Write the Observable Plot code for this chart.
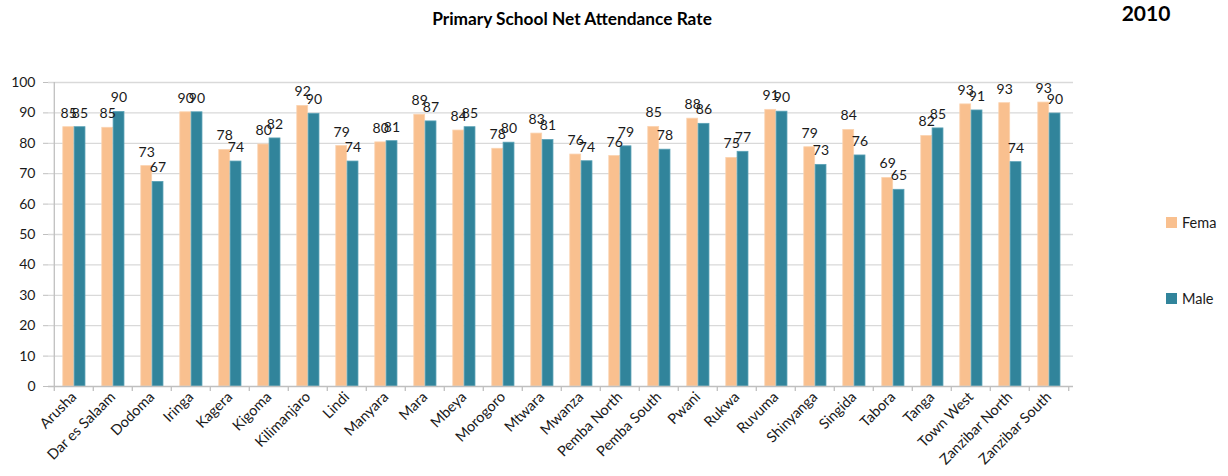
<!DOCTYPE html>
<html>
<head>
<meta charset="utf-8">
<script src="https://cdn.jsdelivr.net/npm/d3@7"></script>
<script src="https://cdn.jsdelivr.net/npm/@observablehq/plot@0.6"></script>
<style>
  html, body { margin: 0; padding: 0; background: #fff; overflow: hidden; }
  #wrap { position: relative; width: 1228px; height: 476px; font-family: Lato, "Open Sans", sans-serif; }
  #title { position: absolute; left: 0; width: 1144px; top: 8px; text-align: center; font-weight: bold; font-size: 17.3px; color: #000; }
  #year { position: absolute; left: 1098px; width: 96px; top: 0px; text-align: center; font-weight: bold; font-size: 21px; color: #000; }
  .leg { position: absolute; left: 1166px; font-size: 14.5px; color: #1a1a1a; white-space: nowrap; display: flex; align-items: center; }
  .sw { width: 10.5px; height: 10.5px; margin-right: 5.5px; display: inline-block; }
  #chart { position: absolute; left: 0; top: 0; }
</style>
</head>
<body>
<div id="wrap">
  <div id="chart"></div>
  <div id="title">Primary School Net Attendance Rate</div>
  <div id="year">2010</div>
  <div id="legend"></div>
</div>
<script>
const regions = ["Arusha","Dar es Salaam","Dodoma","Iringa","Kagera","Kigoma","Kilimanjaro","Lindi","Manyara","Mara","Mbeya","Morogoro","Mtwara","Mwanza","Pemba North","Pemba South","Pwani","Rukwa","Ruvuma","Shinyanga","Singida","Tabora","Tanga","Town West","Zanzibar North","Zanzibar South"];
const female = [85.3,85.1,72.5,90.2,77.8,79.6,92.3,79.1,80.3,89.4,84.2,78.2,83.2,76.3,75.8,85.4,88.1,75.2,91.0,78.7,84.4,68.6,82.4,92.8,93.2,93.4];
const male   = [85.3,90.3,67.3,90.2,74.0,81.6,89.7,74.0,80.7,87.2,85.3,80.2,81.1,74.1,79.0,77.9,86.4,77.2,90.4,72.9,76.0,64.7,84.9,90.8,73.8,89.8];
const seriesNames = ["Female","Male"];
const legendLabels = ["Fema","Male"];
const colors = ["#F9C08F","#31849B"];
const yTicks = [0,10,20,30,40,50,60,70,80,90,100];

const fData = regions.map((r,i)=>({region:r, value:female[i]}));
const mData = regions.map((r,i)=>({region:r, value:male[i]}));

const W = 1228, H = 476, mL = 48, mR = 155;
const bw = (W - mL - mR) / regions.length;
const axisColor = "#bfbfbf";

const chart = Plot.plot({
  width: W, height: H,
  marginLeft: mL, marginRight: mR, marginTop: 82, marginBottom: 90,
  style: {fontFamily: "Lato, 'Open Sans', sans-serif", fontSize: "14px", color: "#1a1a1a", background: "transparent"},
  x: {domain: regions, padding: 0, axis: null, label: null},
  y: {domain: [0,100], axis: null, label: null},
  marks: [
    Plot.gridY(yTicks.slice(1), {stroke: "#d9d9d9", strokeOpacity: 1, strokeWidth: 1.3}),
    Plot.barY(fData, {x: "region", y: "value", fill: colors[0], stroke: "#fbd3b0", strokeWidth: 0.8, insetLeft: 8.8, insetRight: bw - 8.8 - 11.3}),
    Plot.barY(mData, {x: "region", y: "value", fill: colors[1], stroke: "#5ba2b6", strokeWidth: 0.8, insetLeft: 20.1, insetRight: bw - 20.1 - 11.3}),
    Plot.text(fData, {x: "region", y: "value", text: d => d3.format(".0f")(d.value), dx: -bw/2 + 14.4, dy: -14, fill: "#1a1a1a", fontSize: 14}),
    Plot.text(mData, {x: "region", y: "value", text: d => d3.format(".0f")(d.value), dx: -bw/2 + 25.7, dy: -14, fill: "#1a1a1a", fontSize: 14}),
    Plot.ruleY([0], {stroke: axisColor, strokeWidth: 1.3}),
    Plot.ruleX([regions[0]], {x: d => d, dx: -bw/2, y1: 0, y2: 100, stroke: axisColor, strokeWidth: 1.3}),
    Plot.ruleX(regions, {x: d => d, dx: -bw/2, y1: 0, y2: 0, insetBottom: -5, stroke: axisColor, strokeWidth: 1.3}),
    Plot.ruleX([regions[regions.length-1]], {x: d => d, dx: bw/2, y1: 0, y2: 0, insetBottom: -5, stroke: axisColor, strokeWidth: 1.3}),
    Plot.axisY({ticks: yTicks, tickSize: 5, tickPadding: 8, stroke: axisColor, fill: "#1a1a1a", fontSize: 14, anchor: "left", label: null}),
    Plot.axisX({tickRotate: -45, tickSize: 0, tickPadding: 8, fontSize: 14.5, fill: "#1a1a1a", anchor: "bottom", label: null})
  ]
});
document.getElementById("chart").appendChild(chart);

const leg = document.getElementById("legend");
const legTops = [214, 290];
seriesNames.forEach((s,i)=>{
  const d = document.createElement("div");
  d.className = "leg";
  d.style.top = legTops[i] + "px";
  d.innerHTML = `<span class="sw" style="background:${colors[i]}"></span><span>${legendLabels[i]}</span>`;
  leg.appendChild(d);
});
</script>
</body>
</html>
